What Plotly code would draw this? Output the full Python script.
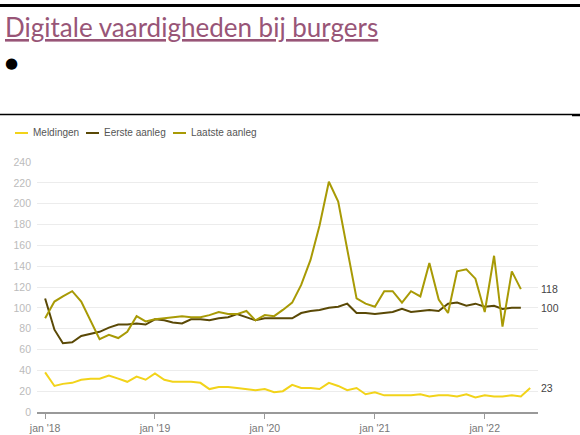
import plotly.graph_objects as go
import pandas as pd

# ---------------- data ----------------
series_names = ["Meldingen", "Eerste aanleg", "Laatste aanleg"]
series_colors = ["#f2d31a", "#5a4906", "#a89a05"]

meldingen = [38, 25, 27, 28, 31, 32, 32, 35, 32, 29, 34, 31,
             37, 31, 29, 29, 29, 28, 22, 24, 24, 23, 22, 21,
             22, 19, 20, 26, 23, 23, 22, 28, 25, 21, 23, 17,
             19, 16, 16, 16, 16, 17, 15, 16, 16, 15, 17, 14,
             16, 15, 15, 16, 15, 23]
eerste_aanleg = [109, 79, 66, 67, 73, 75, 77, 81, 84, 84, 85, 84,
                 89, 88, 86, 85, 89, 89, 88, 90, 91, 94, 91, 88,
                 90, 90, 90, 90, 95, 97, 98, 100, 101, 104, 95, 95,
                 94, 95, 96, 99, 96, 97, 98, 97, 104, 105, 102, 104,
                 101, 102, 99, 100, 100]
laatste_aanleg = [90, 106, 111, 116, 106, 88, 70, 74, 71, 77, 92, 87,
                  89, 90, 91, 92, 91, 91, 93, 96, 94, 94, 97, 88,
                  93, 92, 98, 105, 122, 146, 179, 221, 202, 155, 109, 104,
                  101, 116, 116, 105, 116, 111, 143, 108, 95, 135, 137, 128,
                  96, 150, 82, 135, 118]

months = pd.date_range("2018-01-01", periods=len(meldingen), freq="MS")
series_values = [meldingen, eerste_aanleg, laatste_aanleg]

x_tick_vals = ["2018-01-01", "2019-01-01", "2020-01-01", "2021-01-01", "2022-01-01"]
x_tick_text = ["jan '18", "jan '19", "jan '20", "jan '21", "jan '22"]
y_tick_vals = list(range(0, 241, 20))

title_text = "Digitale vaardigheden bij burgers"

# ---------------- layout geometry ----------------
W, H = 580, 435
PL, PR, PT, PB = 37, 538, 162, 412


def px_x(X):
    return (X - PL) / (PR - PL)


def px_y(Y):
    return (PB - Y) / (PB - PT)


fig = go.Figure()
for name, vals, col in zip(series_names, series_values, series_colors):
    fig.add_trace(go.Scatter(
        x=months[:len(vals)], y=vals, mode="lines", name=name,
        line=dict(color=col, width=2), showlegend=False,
        hoverinfo="x+y+name",
    ))

annotations = []
shapes = []

# title
annotations.append(dict(
    text="<u>" + title_text + "</u>", xref="paper", yref="paper",
    x=px_x(3), y=px_y(27), xanchor="left", yanchor="middle", showarrow=False,
    font=dict(family="Lato", size=26, color="#985577"),
))
# bullet
annotations.append(dict(
    text="●", xref="paper", yref="paper",
    x=px_x(3), y=px_y(63), xanchor="left", yanchor="middle", showarrow=False,
    font=dict(family="DejaVu Sans", size=15, color="#000000"),
))
# rules
shapes.append(dict(type="line", xref="paper", yref="paper",
                   x0=px_x(0), x1=px_x(W), y0=px_y(5.5), y1=px_y(5.5),
                   line=dict(color="#000000", width=3)))
shapes.append(dict(type="line", xref="paper", yref="paper",
                   x0=px_x(0), x1=px_x(572), y0=px_y(114.5), y1=px_y(114.5),
                   line=dict(color="#000000", width=1.5)))
shapes.append(dict(type="line", xref="paper", yref="paper",
                   x0=px_x(572), x1=px_x(W), y0=px_y(115), y1=px_y(115),
                   line=dict(color="#000000", width=2.5)))

# manual legend
legend_x = [15, 86, 173]
for lx, name, col in zip(legend_x, series_names, series_colors):
    shapes.append(dict(type="line", xref="paper", yref="paper",
                       x0=px_x(lx), x1=px_x(lx + 13), y0=px_y(133), y1=px_y(133),
                       line=dict(color=col, width=2)))
    annotations.append(dict(
        text=name, xref="paper", yref="paper",
        x=px_x(lx + 16), y=px_y(133), xanchor="left", yanchor="middle",
        showarrow=False, font=dict(family="Liberation Sans", size=10, color="#555555"),
    ))

# end labels
for vals in series_values:
    annotations.append(dict(
        text=str(vals[-1]), xref="paper", yref="y",
        x=1, y=vals[-1], xanchor="left", yanchor="middle", xshift=1,
        showarrow=False, font=dict(family="Liberation Sans", size=10.5, color="#444444"),
    ))

fig.update_layout(
    width=W, height=H, autosize=False,
    margin=dict(l=PL, r=W - PR, t=PT, b=H - PB, pad=0, autoexpand=False),
    paper_bgcolor="white", plot_bgcolor="white",
    showlegend=False,
    annotations=annotations, shapes=shapes,
    xaxis=dict(
        type="date", range=["2017-12-05", "2022-06-27"],
        tickvals=x_tick_vals, ticktext=x_tick_text,
        showgrid=False, zeroline=False, automargin=False,
        showline=True, linecolor="#999999", linewidth=2,
        ticks="outside", ticklen=5, tickcolor="#999999", tickwidth=1,
        tickfont=dict(family="Liberation Sans", size=10.5, color="#777777"),
        fixedrange=True,
    ),
    yaxis=dict(
        range=[0, 240], tickvals=y_tick_vals,
        showgrid=True, gridcolor="#ececec", gridwidth=1,
        zeroline=False, showline=False, ticks="", automargin=False,
        ticklabelstandoff=5,
        tickfont=dict(family="Liberation Sans", size=10.5, color="#bbbbbb"),
        fixedrange=True,
    ),
)

post = ("document.body.style.margin='0';document.body.style.padding='0';"
        "document.body.style.overflow='hidden';")

fig.write_html("out.html", config={"responsive": False, "displayModeBar": False},
               post_script=post)
